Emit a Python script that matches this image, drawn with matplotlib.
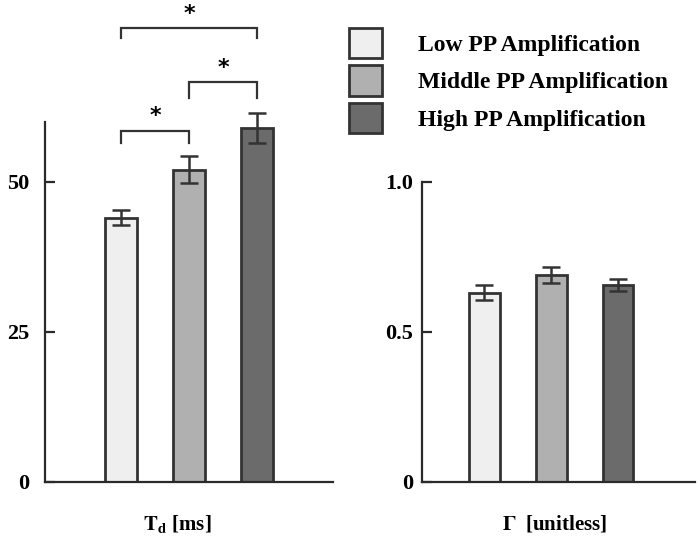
import numpy as np
import matplotlib.pyplot as plt
from matplotlib.patches import Rectangle

plt.rcParams['font.family'] = ['Liberation Serif', 'DejaVu Serif']
plt.rcParams['font.weight'] = 'bold'
plt.rcParams['mathtext.fontset'] = 'stix'

groups = ['Low PP Amplification', 'Middle PP Amplification', 'High PP Amplification']
colors = ['#efefef', '#b0b0b0', '#6b6b6b']

td_mean = [44.0, 52.0, 59.0]
td_err = [1.3, 2.2, 2.5]
gamma_mean = [0.63, 0.69, 0.655]
gamma_err = [0.025, 0.027, 0.02]

# significance brackets on T_d: (from bar, to bar), bracket height, leg length
sig_pairs = [(0, 2), (1, 2), (0, 1)]
sig_heights = [75.6, 66.6, 58.5]
sig_legs = [1.7, 2.6, 2.0]

edge = '#333333'
W, H = 700, 541


def make_plot():
    fig = plt.figure(figsize=(W / 100, H / 100), dpi=100)
    ax1 = fig.add_axes([45/W, 59.3/H, 288/W, 480/H])
    ax2 = fig.add_axes([422/W, 59.3/H, 273/W, 480/H])
    x = np.arange(3)

    for ax, mean, err in [(ax1, td_mean, td_err), (ax2, gamma_mean, gamma_err)]:
        ax.bar(x, mean, width=0.46, color=colors, edgecolor=edge, linewidth=2.0, zorder=2)
        ax.errorbar(x, mean, yerr=err, fmt='none', ecolor=edge, elinewidth=1.8,
                    capsize=6.5, capthick=1.8, zorder=3)
        for s in ['top', 'right']:
            ax.spines[s].set_visible(False)
        for s in ['left', 'bottom']:
            ax.spines[s].set_linewidth(1.6)
            ax.spines[s].set_color('#2a2a2a')
        ax.set_xticks([])
        ax.tick_params(axis='y', direction='in', length=7, width=1.6, color='#2a2a2a',
                       labelsize=16)

    ax1.set_xlim(-1.12, 3.12)
    ax1.set_ylim(0, 80)
    ax1.spines['left'].set_bounds(0, 60)
    ax1.set_yticks([0, 25, 50])
    ax1.tick_params(axis='y', pad=11.5)

    ax2.set_xlim(-0.93, 3.15)
    ax2.set_ylim(0, 1.6)
    ax2.spines['left'].set_bounds(0, 1.0)
    ax2.set_yticks([0, 0.5, 1.0])
    ax2.set_yticklabels(['0', '0.5', '1.0'])
    ax2.tick_params(axis='y', pad=6.5)

    for (a, b), h, leg in zip(sig_pairs, sig_heights, sig_legs):
        ax1.plot([a, a, b, b], [h - leg, h, h, h - leg], color=edge, lw=1.6,
                 clip_on=False, solid_joinstyle='miter')
        ax1.text((a + b) / 2, h + 1.4, '*', ha='center', va='baseline', fontsize=16,
                 fontweight='bold', family='DejaVu Sans', clip_on=False)

    ax1.set_xlabel(r'$\mathbf{T}_{\mathbf{d}}$ [ms]', fontsize=15, fontweight='bold',
                   va='center')
    ax1.xaxis.set_label_coords(0.46, -0.088)
    ax2.set_xlabel(r'$\Gamma$  [unitless]', fontsize=15, fontweight='bold', va='center')
    ax2.xaxis.set_label_coords(0.487, -0.088)

    # legend drawn by hand to match the box sizes
    for i, (c, g) in enumerate(zip(colors, groups)):
        top = 28 + 37.5 * i
        fig.patches.append(Rectangle((349/W, 1 - (top + 30)/H), 33/W, 30/H,
                                     facecolor=c, edgecolor=edge, linewidth=2.0,
                                     transform=fig.transFigure, figure=fig))
        fig.text(418/W, 1 - (top + 17.5)/H, g, ha='left', va='center', fontsize=17,
                 fontweight='bold')

    plt.savefig('out.png', dpi=100)
    plt.close()


if __name__ == '__main__':
    make_plot()
